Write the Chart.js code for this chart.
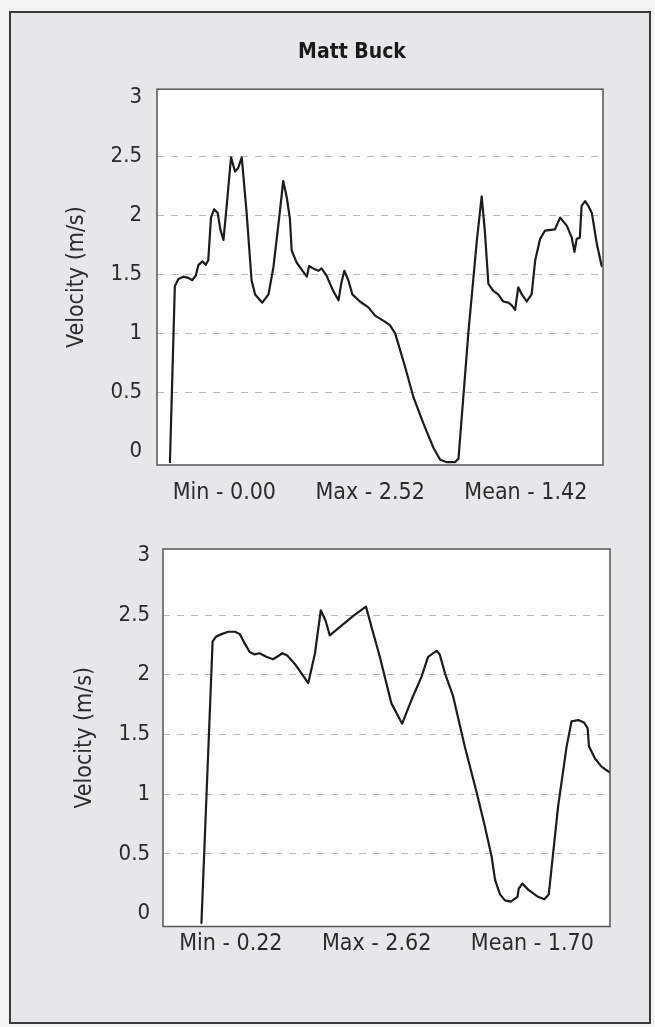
<!DOCTYPE html>
<html>
<head>
<meta charset="utf-8">
<script src="https://cdn.jsdelivr.net/npm/chart.js@4/dist/chart.umd.min.js"></script>
<style>
  html, body { margin: 0; padding: 0; background: #f3f3f3; }
  #page { position: relative; width: 655px; height: 1027px; overflow: hidden; }
  #frame { position: absolute; left: 9px; top: 11px; width: 638px; height: 1009px;
           border: 2px solid #3a3a3a; background: #e5e7e9; }
  .cv { position: absolute; }
  #c1 { top: 0; left: 49px; }
  #c2 { top: 510px; left: 0; }
</style>
</head>
<body>
<div id="page">
  <div id="frame"></div>
  <canvas id="c1" class="cv" width="606" height="510"></canvas>
  <canvas id="c2" class="cv" width="655" height="517"></canvas>
</div>
<script>
// ---- data ----
const athlete = "Matt Buck";
const yAxisLabel = "Velocity (m/s)";
const yTicks = [0, 0.5, 1, 1.5, 2, 2.5, 3];

const topStats = ["Min - 0.00", "Max - 2.52", "Mean - 1.42"];
const topX = [2.9, 4.0, 4.8, 5.9, 7.0, 7.9, 8.7, 9.3, 10.2, 10.9, 11.5, 12.1, 12.8, 13.6, 14.2, 14.9, 15.6, 16.6, 17.5, 18.2, 19.0, 20.1, 21.2, 22.0, 23.6, 25.0, 26.1, 27.4, 28.3, 29.1, 29.8, 30.2, 31.3, 32.8, 33.6, 34.1, 35.0, 36.2, 36.9, 38.0, 39.5, 40.7, 41.3, 42.0, 42.9, 43.8, 45.5, 47.4, 48.9, 51.1, 52.2, 53.4, 55.6, 57.5, 59.7, 62.0, 63.5, 65.0, 66.8, 67.6, 69.8, 71.7, 72.8, 73.5, 74.3, 75.4, 76.5, 77.6, 78.8, 79.5, 80.3, 81.0, 81.8, 82.9, 84.0, 84.8, 85.9, 87.0, 89.2, 90.4, 91.9, 93.0, 93.6, 94.1, 94.8, 95.2, 96.0, 96.7, 97.5, 98.6, 99.7];
const topV = [-0.09, 1.40, 1.46, 1.48, 1.47, 1.45, 1.49, 1.58, 1.61, 1.58, 1.62, 1.98, 2.05, 2.02, 1.88, 1.79, 2.07, 2.49, 2.37, 2.40, 2.49, 2.02, 1.45, 1.33, 1.26, 1.33, 1.56, 1.98, 2.29, 2.15, 1.97, 1.70, 1.60, 1.52, 1.48, 1.57, 1.55, 1.53, 1.55, 1.49, 1.36, 1.28, 1.42, 1.53, 1.45, 1.33, 1.27, 1.22, 1.15, 1.10, 1.07, 1.00, 0.72, 0.46, 0.24, 0.03, -0.07, -0.09, -0.09, -0.06, 1.00, 1.78, 2.16, 1.87, 1.42, 1.36, 1.33, 1.27, 1.26, 1.24, 1.20, 1.39, 1.33, 1.27, 1.33, 1.62, 1.80, 1.87, 1.88, 1.98, 1.91, 1.81, 1.69, 1.80, 1.81, 2.08, 2.12, 2.08, 2.02, 1.76, 1.57];

const bottomStats = ["Min - 0.22", "Max - 2.62", "Mean - 1.70"];
const bottomX = [8.6, 11.1, 11.9, 13.1, 14.6, 16.1, 17.2, 18.3, 19.4, 20.5, 21.6, 23.1, 24.6, 25.5, 26.7, 27.8, 29.5, 32.5, 34.0, 35.3, 36.4, 37.3, 39.6, 42.5, 45.4, 48.5, 51.1, 53.5, 55.6, 57.8, 59.3, 61.2, 61.9, 63.1, 64.9, 67.5, 70.2, 72.0, 73.5, 74.3, 75.4, 76.5, 77.8, 79.3, 79.6, 80.4, 81.7, 83.9, 85.3, 86.3, 88.4, 90.3, 91.4, 92.9, 94.2, 95.0, 95.3, 96.6, 98.1, 100];
const bottomV = [-0.08, 2.28, 2.32, 2.34, 2.36, 2.36, 2.34, 2.26, 2.19, 2.17, 2.18, 2.15, 2.13, 2.15, 2.18, 2.16, 2.09, 1.93, 2.18, 2.54, 2.45, 2.33, 2.40, 2.49, 2.57, 2.15, 1.76, 1.59, 1.79, 1.98, 2.15, 2.20, 2.17, 2.01, 1.82, 1.40, 1.01, 0.73, 0.48, 0.28, 0.16, 0.11, 0.10, 0.14, 0.21, 0.25, 0.20, 0.14, 0.12, 0.16, 0.90, 1.40, 1.61, 1.62, 1.60, 1.55, 1.40, 1.30, 1.23, 1.18];

// ---- styling ----
const FONT = "'Liberation Sans Narrow', 'DejaVu Sans Condensed', 'Liberation Sans', sans-serif";
const TEXT = '#2b2b2b';

const plotFrame = {
  id: 'plotFrame',
  beforeDraw(chart) {
    const {ctx, chartArea: a} = chart;
    ctx.save();
    ctx.fillStyle = '#ffffff';
    ctx.fillRect(a.left, a.top, a.right - a.left, a.bottom - a.top);
    ctx.restore();
  },
  afterDraw(chart) {
    const {ctx, chartArea: a} = chart;
    ctx.save();
    ctx.strokeStyle = '#555555';
    ctx.lineWidth = 1.5;
    ctx.strokeRect(a.left, a.top, a.right - a.left, a.bottom - a.top);
    ctx.restore();
  }
};

function makeChart(id, xs, vs, stats, cfg) {
  const pts = xs.map((x, i) => ({x: x, y: vs[i]}));
  return new Chart(document.getElementById(id), {
    type: 'line',
    data: { datasets: [{ data: pts, yAxisID: 'y', borderColor: '#1c1c1c', borderWidth: 2.2,
      pointRadius: 0, tension: 0, borderJoinStyle: 'round', borderCapStyle: 'round' }] },
    options: {
      responsive: false, animation: false,
      layout: { padding: cfg.padding },
      plugins: {
        legend: { display: false }, tooltip: { enabled: false },
        title: cfg.title ? { display: true, text: cfg.title, color: '#1a1a1a',
          font: { family: FONT, size: 21, weight: 'bold', lineHeight: 1.2 },
          padding: { top: cfg.titleTop, bottom: cfg.titleBottom } } : { display: false }
      },
      scales: {
        x: {
          type: 'linear', min: 0, max: 100,
          grid: { display: false, drawTicks: false },
          border: { display: false },
          ticks: { display: false },
          title: { display: true, text: stats.join('      '), color: TEXT,
            font: { family: FONT, size: 23, lineHeight: 1.2 },
            padding: { top: 0, bottom: cfg.statsPad } },
          afterFit(s) { s.height = cfg.xHeight; }
        },
        y: {
          position: 'left',
          min: cfg.ymin, max: cfg.ymax,
          afterBuildTicks(s) { s.ticks = yTicks.map(v => ({value: v})); },
          grid: { drawTicks: false, lineWidth: 1,
            color: c => (c.tick && (c.tick.value === 0 || c.tick.value === 3)) ? 'rgba(0,0,0,0)' : 'rgba(140,140,140,0.6)' },
          border: { display: false, dash: [7, 7] },
          ticks: { color: TEXT, padding: cfg.tickPad, font: { family: FONT, size: 22 },
            callback: v => String(v) },
          title: { display: true, text: yAxisLabel, color: TEXT,
            font: { family: FONT, size: 23, lineHeight: 1.2 },
            padding: { top: cfg.yTitlePad, bottom: 0 } },
          afterFit(s) { s.width = cfg.yWidth; }
        },
        yRight: {
          position: 'right', display: true,
          min: cfg.ymin, max: cfg.ymax,
          grid: { display: false, drawTicks: false },
          border: { display: false },
          ticks: { display: false },
          afterFit(s) { s.width = cfg.rightWidth; }
        }
      }
    },
    plugins: [plotFrame]
  });
}

makeChart('c1', topX, topV, topStats, {
  title: athlete, titleTop: 40, titleBottom: 24,
  padding: { left: 0, right: 0, top: 0, bottom: 0 },
  ymin: -0.114, ymax: 3.067, xHeight: 45, statsPad: 3, yWidth: 108, rightWidth: 52,
  tickPad: 15, yTitlePad: 14
});
makeChart('c2', bottomX, bottomV, bottomStats, {
  title: null,
  padding: { left: 0, right: 0, top: 39, bottom: 47 },
  ymin: -0.109, ymax: 3.053, xHeight: 53.5, statsPad: 22, yWidth: 163, rightWidth: 45,
  tickPad: 13, yTitlePad: 71
});
</script>
</body>
</html>
